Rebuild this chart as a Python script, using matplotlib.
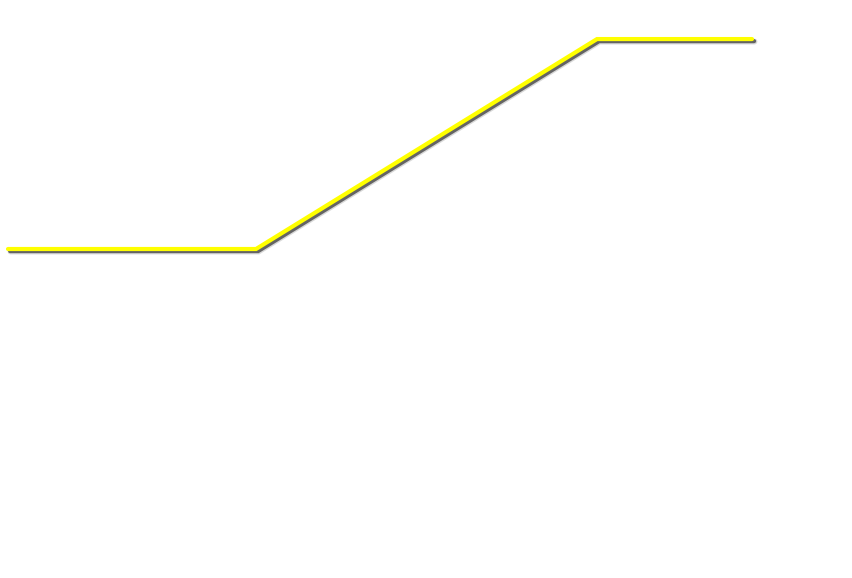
import matplotlib
matplotlib.use("Agg")
import matplotlib.pyplot as plt
import matplotlib.patheffects as pe

# values
x_vals = [0, 16, 38, 48]
y_vals = [0, 0, 1, 1]

fig = plt.figure(figsize=(8.52, 5.78), dpi=100)
ax = fig.add_axes([0, 0, 1, 1])

# soft shadow: a few faint layers stacked under the line
shadow = [
    pe.Stroke(offset=(1.8, -1.8), linewidth=4.2, foreground='#000000', alpha=0.15),
    pe.SimpleLineShadow(offset=(1.5, -1.5), shadow_color='#333333', alpha=0.7),
    pe.Normal(),
]

ax.plot(x_vals, y_vals, color='#ffff00', linewidth=3.0,
        solid_capstyle='round', solid_joinstyle='miter',
        path_effects=shadow)

ax.set_xlim(-0.516, 54.45)
ax.set_ylim(-1.567, 1.186)
ax.axis('off')

fig.savefig('out.png', dpi=100)
